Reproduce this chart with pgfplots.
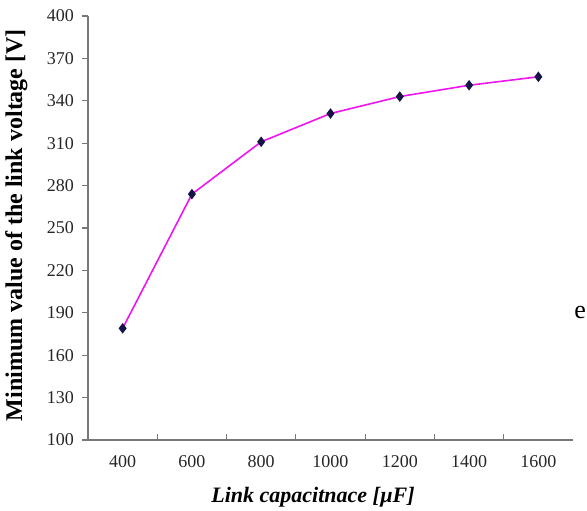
\documentclass[border=0pt]{standalone}
\usepackage{fontspec}
\setmainfont{Liberation Serif}
\usepackage{pgfplots}
\pgfplotsset{compat=1.18}
\definecolor{axgray}{RGB}{120,120,120}
\definecolor{lnmag}{RGB}{240,20,240}
\definecolor{mknavy}{RGB}{20,20,70}
\begin{document}
\begin{tikzpicture}
\begin{axis}[
  name=ax,
  scale only axis,
  width=242.5pt, height=212pt,
  xmin=0, xmax=7,
  ymin=100, ymax=400,
  axis x line=bottom, axis y line=left,
  axis line style={axgray, line width=0.9pt, -},
  xtick={0.5,1.5,2.5,3.5,4.5,5.5,6.5},
  xticklabels={400,600,800,1000,1200,1400,1600},
  minor xtick={1,2,3,4,5,6},
  major x tick style={draw=none},
  minor x tick style={axgray, line width=0.6pt},
  minor tick length=3pt,
  ytick={100,130,...,400},
  y tick style={axgray, line width=0.6pt},
  major tick length=3pt,
  ytick align=outside,
  xtick align=inside,
  /pgf/number format/assume math mode=true,
  ticklabel style={font=\fontsize{9}{10}\selectfont, text=black!85},
  yticklabel style={xshift=-0.5pt},
  xticklabel style={yshift=-4pt},
  xlabel={\textbf{\textit{Link capacitnace [µF]}}},
  ylabel={\textbf{Minimum value of the link voltage [V]}},
  xlabel style={font=\fontsize{11}{12}\selectfont, at={(axis description cs:0.464,-0.134)}, anchor=center},
  ylabel style={font=\fontsize{12}{13}\selectfont, at={(axis description cs:-0.148,0.507)}, anchor=center, rotate=0},
  clip=false,
]
\addplot[lnmag, line width=0.8pt, mark=diamond*, mark size=2pt,
  mark options={fill=mknavy, draw=mknavy}] coordinates {
  (0.5,179) (1.5,274) (2.5,311) (3.5,331) (4.5,343) (5.5,351) (6.5,357)
};
\end{axis}
\node[font=\fontsize{13}{14}\selectfont, anchor=base west, inner sep=0pt] at ([xshift=0.5pt,yshift=61pt]ax.south east) {e};
\pgfresetboundingbox
\path ([xshift=-44pt,yshift=-35pt]ax.south west) rectangle ([xshift=7pt,yshift=8pt]ax.north east);
\end{tikzpicture}
\end{document}
